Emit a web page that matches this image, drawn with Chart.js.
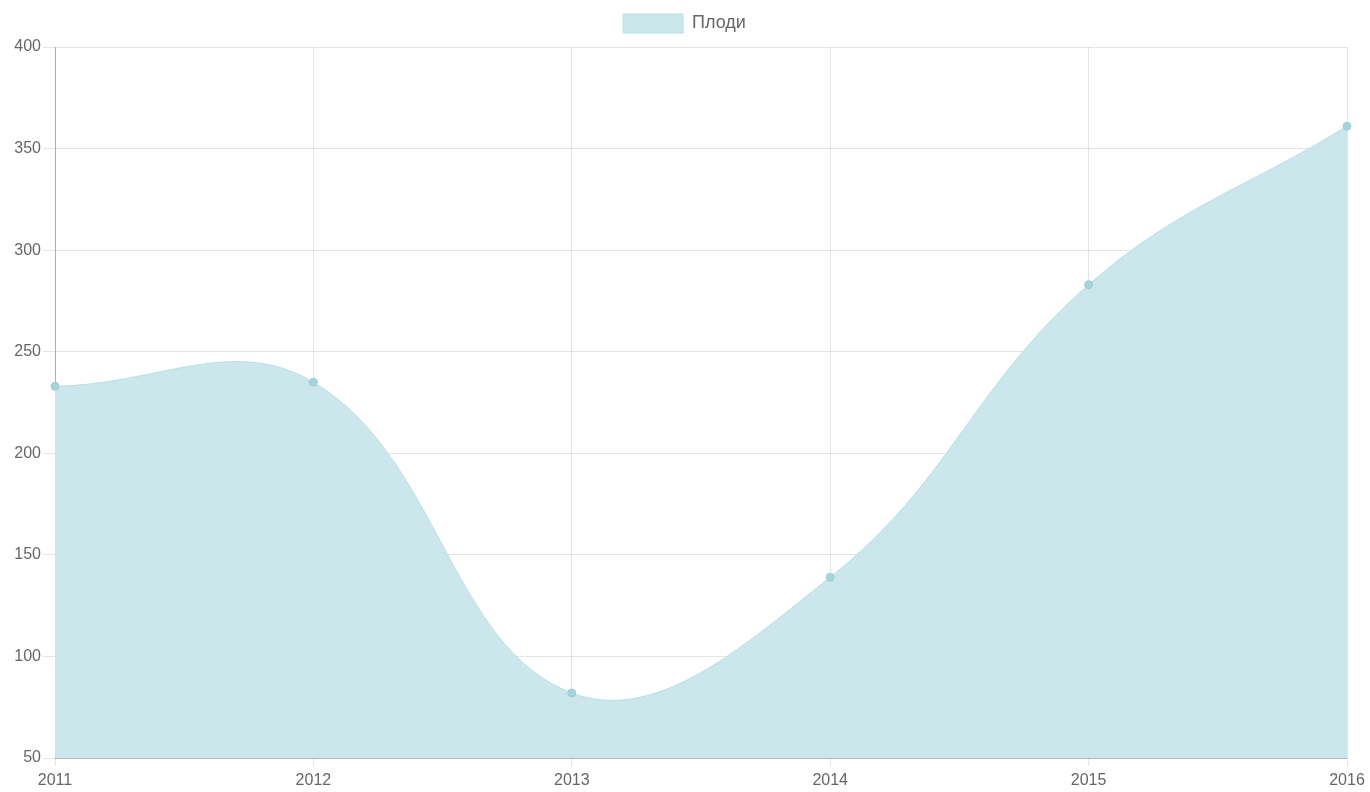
<!DOCTYPE html>
<html>
<head>
<meta charset="utf-8">
<script src="https://cdn.jsdelivr.net/npm/chart.js@4.4.1/dist/chart.umd.min.js"></script>
<style>
  html, body { margin: 0; padding: 0; background: #fff; }
  #wrap { width: 1370px; height: 792px; position: relative; }
</style>
</head>
<body>
<div id="wrap"><canvas id="fruitChart"></canvas></div>
<script>
// years and harvest values
const years = ['2011', '2012', '2013', '2014', '2015', '2016'];
const fruit = [233, 235, 82, 139, 283, 361];
const yTicks = [50, 100, 150, 200, 250, 300, 350, 400];

Chart.defaults.font.family = '"Liberation Sans", Arial, sans-serif';
Chart.defaults.font.size = 16;
Chart.defaults.color = '#666';

// extra gap under the legend, and center it on the whole canvas
const legendSpacing = {
  id: 'legendSpacing',
  afterInit(chart) {
    const fit = chart.legend.fit;
    chart.legend.fit = function () {
      fit.call(this);
      this.height += 4;
    };
  },
  afterLayout(chart) {
    chart.legend.left += 11;
    chart.legend.right += 11;
  }
};

const ctx = document.getElementById('fruitChart').getContext('2d');
new Chart(ctx, {
  type: 'line',
  data: {
    labels: years,
    datasets: [{
      label: 'Плоди',
      data: fruit,
      fill: true,
      tension: 0.4,
      backgroundColor: '#cbe7eb',
      borderColor: '#b8dfe4',
      borderWidth: 1,
      pointRadius: 4,
      pointBackgroundColor: '#a6d4db',
      pointBorderColor: '#9ccfd7',
      pointBorderWidth: 1
    }]
  },
  options: {
    responsive: true,
    maintainAspectRatio: false,
    animation: false,
    layout: { padding: { top: 0, right: 23, bottom: 0, left: 0 } },
    plugins: {
      legend: {
        display: true,
        labels: {
          boxWidth: 60,
          boxHeight: 19,
          padding: 14,
          color: '#666',
          font: { size: 18 }
        }
      },
      tooltip: { enabled: false }
    },
    scales: {
      x: {
        grid: { color: 'rgba(0,0,0,0.1)', tickLength: 8 },
        border: { color: 'rgba(0,0,0,0.2)' },
        ticks: { padding: 5, maxRotation: 0 },
        afterFit(scale) { scale.height = 34; }
      },
      y: {
        min: 50,
        max: 400,
        afterBuildTicks(scale) { scale.ticks = yTicks.map(v => ({ value: v })); },
        grid: { color: 'rgba(0,0,0,0.1)', tickLength: 12 },
        border: { color: 'rgba(0,0,0,0.25)' },
        ticks: { padding: 2 },
        afterFit(scale) { scale.width = 55; }
      }
    }
  },
  plugins: [legendSpacing]
});
</script>
</body>
</html>
